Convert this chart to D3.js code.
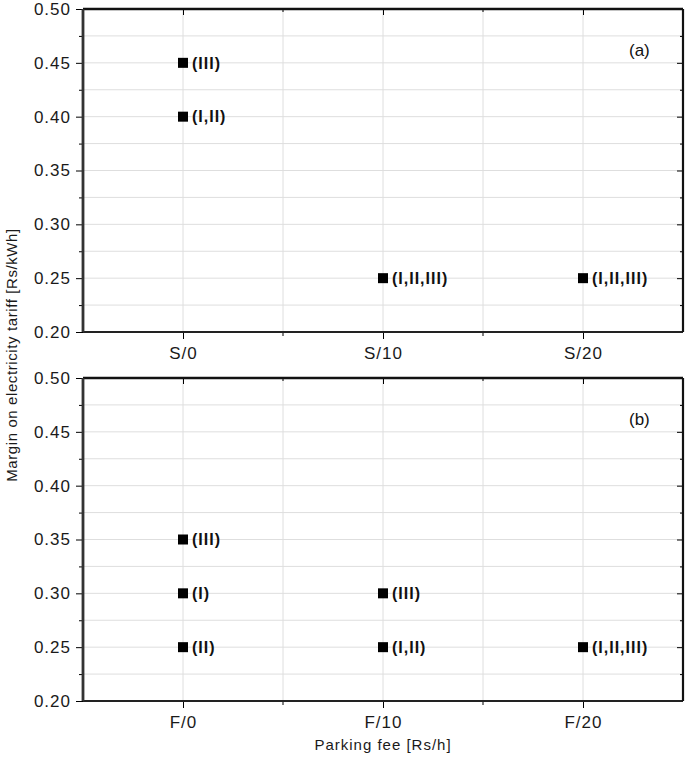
<!DOCTYPE html>
<html>
<head>
<meta charset="utf-8">
<script src="https://cdn.jsdelivr.net/npm/d3@7"></script>
<style>
  body { margin: 0; background: #fff; }
  svg { display: block; font-family: "Liberation Sans", Arial, sans-serif; }
  .grid line { stroke: #dedede; stroke-width: 1; }
  .axis text { fill: #1a1a1a; }
</style>
</head>
<body>
<div id="chart"></div>
<script>
// categories for each panel
const catsA = ["S/0", "S/10", "S/20"];
const catsB = ["F/0", "F/10", "F/20"];

// points: category, margin value, scenario label
const pointsA = [
  ["S/0", 0.45, "(III)"],
  ["S/0", 0.40, "(I,II)"],
  ["S/10", 0.25, "(I,II,III)"],
  ["S/20", 0.25, "(I,II,III)"]
];
const pointsB = [
  ["F/0", 0.35, "(III)"],
  ["F/0", 0.30, "(I)"],
  ["F/0", 0.25, "(II)"],
  ["F/10", 0.30, "(III)"],
  ["F/10", 0.25, "(I,II)"],
  ["F/20", 0.25, "(I,II,III)"]
];

const yMajor = [0.20, 0.25, 0.30, 0.35, 0.40, 0.45, 0.50];
const yMinor = [0.225, 0.275, 0.325, 0.375, 0.425, 0.475];
const yDomain = [0.20, 0.50];

const W = 685, H = 762;
const left = 83, plotW = 600, plotH = 323;
const panels = [
  { cats: catsA, points: pointsA, top: 9, tag: "(a)" },
  { cats: catsB, points: pointsB, top: 378, tag: "(b)" }
];

const svg = d3.select("#chart").append("svg")
  .attr("width", W)
  .attr("height", H);

panels.forEach((p) => {
  const x = d3.scalePoint().domain(p.cats).range([0, plotW]).padding(0.5);
  const y = d3.scaleLinear().domain(yDomain).range([plotH, 0]);
  const half = x.step() / 2;
  const xMinor = p.cats.slice(0, -1).map((c) => x(c) + half);

  const g = svg.append("g").attr("transform", `translate(${left},${p.top})`);

  // grid
  const grid = g.append("g").attr("class", "grid");
  grid.selectAll(".hy")
    .data(yMajor.concat(yMinor).filter((v) => v > yDomain[0] && v < yDomain[1]))
    .enter().append("line")
    .attr("x1", 0).attr("x2", plotW)
    .attr("y1", (d) => y(d)).attr("y2", (d) => y(d));
  grid.selectAll(".vx")
    .data(p.cats.map((c) => x(c)).concat(xMinor))
    .enter().append("line")
    .attr("x1", (d) => d).attr("x2", (d) => d)
    .attr("y1", 0).attr("y2", plotH);

  // left axis, major + minor ticks
  const yAxis = g.append("g").attr("class", "axis")
    .call(d3.axisLeft(y).tickValues(yMajor).tickFormat(d3.format(".2f"))
      .tickSize(7).tickPadding(5).tickSizeOuter(0));
  yAxis.selectAll("text")
    .style("font-size", "17px")
    .style("letter-spacing", "1px");
  g.append("g").attr("class", "axis")
    .call(d3.axisLeft(y).tickValues(yMinor).tickFormat("").tickSize(4).tickSizeOuter(0));

  // right axis, ticks inward
  g.append("g").attr("class", "axis").attr("transform", `translate(${plotW},0)`)
    .call(d3.axisLeft(y).tickValues(yMajor).tickFormat("").tickSize(6).tickSizeOuter(0));
  g.append("g").attr("class", "axis").attr("transform", `translate(${plotW},0)`)
    .call(d3.axisLeft(y).tickValues(yMinor).tickFormat("").tickSize(3).tickSizeOuter(0));

  // bottom axis
  const xAxis = g.append("g").attr("class", "axis").attr("transform", `translate(0,${plotH})`)
    .call(d3.axisBottom(x).tickSize(7).tickPadding(8).tickSizeOuter(0));
  xAxis.selectAll("text")
    .style("font-size", "17px")
    .style("letter-spacing", "1px");
  const minorX = g.append("g").attr("transform", `translate(0,${plotH})`);
  minorX.selectAll("line").data(xMinor).enter().append("line")
    .attr("x1", (d) => d).attr("x2", (d) => d)
    .attr("y1", 0).attr("y2", 4)
    .attr("stroke", "#000");

  // top axis, ticks inward
  g.append("g").attr("class", "axis")
    .call(d3.axisBottom(x).tickFormat("").tickSize(6).tickSizeOuter(0));
  g.append("g").selectAll("line").data(xMinor).enter().append("line")
    .attr("x1", (d) => d).attr("x2", (d) => d)
    .attr("y1", 0).attr("y2", 3)
    .attr("stroke", "#000");

  g.selectAll(".axis .domain").remove();

  // frame
  g.append("line").attr("x1", 0).attr("x2", plotW).attr("y1", 0).attr("y2", 0)
    .attr("stroke", "#111").attr("stroke-width", 2.5);
  g.append("line").attr("x1", 0).attr("x2", plotW).attr("y1", plotH).attr("y2", plotH)
    .attr("stroke", "#222").attr("stroke-width", 2.2);
  g.append("line").attr("x1", 0).attr("x2", 0).attr("y1", 0).attr("y2", plotH)
    .attr("stroke", "#333").attr("stroke-width", 2.8);
  g.append("line").attr("x1", plotW).attr("x2", plotW).attr("y1", 0).attr("y2", plotH)
    .attr("stroke", "#111").attr("stroke-width", 2.2);

  // points
  const pts = g.append("g").selectAll("g")
    .data(p.points)
    .enter().append("g")
    .attr("transform", (d) => `translate(${x(d[0])},${y(d[1])})`);
  pts.append("rect")
    .attr("x", -5).attr("y", -5)
    .attr("width", 10).attr("height", 10)
    .attr("fill", "#000");
  pts.append("text")
    .attr("x", 9)
    .attr("dy", "0.36em")
    .style("font-size", "16px")
    .style("font-weight", "bold")
    .style("letter-spacing", "1px")
    .attr("fill", "#111")
    .text((d) => d[2]);

  // panel tag
  g.append("text")
    .attr("x", plotW - 54)
    .attr("y", 41)
    .attr("dy", "0.36em")
    .style("font-size", "17px")
    .attr("fill", "#111")
    .text(p.tag);
});

// axis titles
svg.append("text")
  .attr("transform", `translate(17,${(9 + 378 + plotH) / 2}) rotate(-90)`)
  .attr("text-anchor", "middle")
  .style("font-size", "15px")
  .style("letter-spacing", "0.6px")
  .attr("fill", "#1a1a1a")
  .text("Margin on electricity tariff [Rs/kWh]");

svg.append("text")
  .attr("x", left + plotW / 2)
  .attr("y", 750)
  .attr("text-anchor", "middle")
  .style("font-size", "15px")
  .style("letter-spacing", "1px")
  .attr("fill", "#1a1a1a")
  .text("Parking fee [Rs/h]");
</script>
</body>
</html>
